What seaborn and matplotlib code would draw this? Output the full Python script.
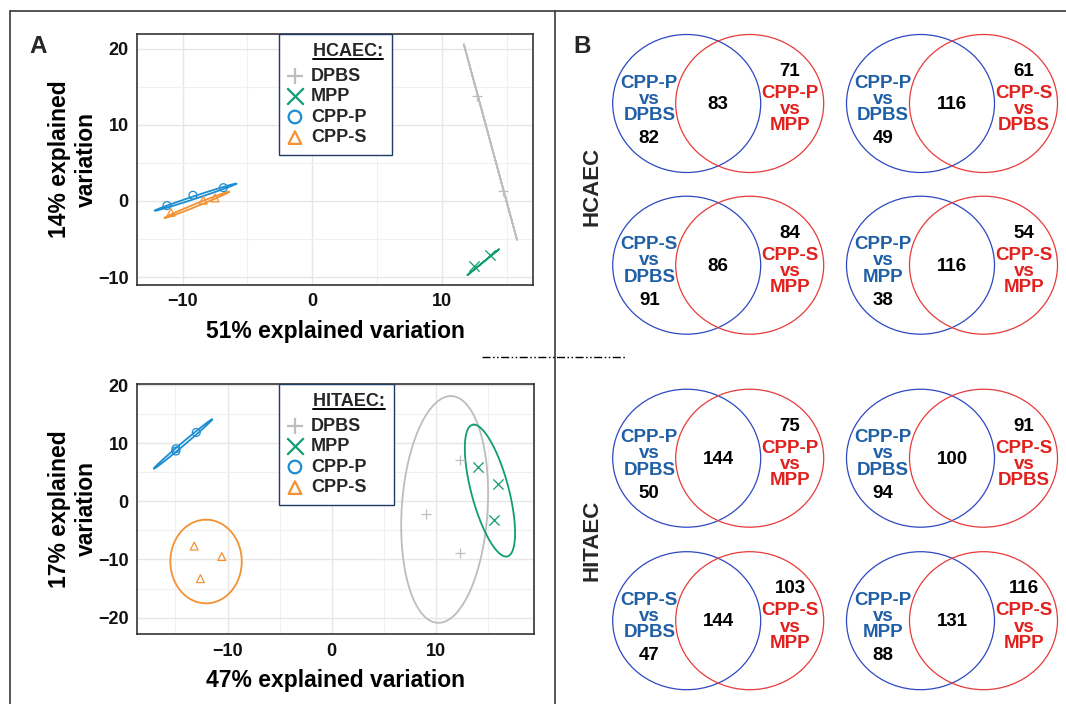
import numpy as np
import pandas as pd
import matplotlib
matplotlib.use("Agg")
import matplotlib.pyplot as plt
import seaborn as sns
from matplotlib.patches import Ellipse
from matplotlib.lines import Line2D
from matplotlib.ticker import MultipleLocator

# --- PCA data ---
groups = ["DPBS", "MPP", "CPP-P", "CPP-S"]
group_colors = ["#bdbdbd", "#0f9d72", "#1b8ed1", "#f39133"]
group_markers = ["+", "x", "o", "^"]

hcaec_group = ["DPBS", "DPBS", "MPP", "MPP", "CPP-P", "CPP-P", "CPP-P",
               "CPP-S", "CPP-S", "CPP-S"]
hcaec_pc1 = [12.75, 14.75, 12.5, 13.75, -11.2, -9.2, -6.85, -10.9, -8.4, -7.5]
hcaec_pc2 = [13.85, 1.35, -8.6, -7.1, -0.6, 0.75, 1.75, -1.5, 0.1, 0.4]

hitaec_group = ["DPBS", "DPBS", "DPBS", "MPP", "MPP", "MPP", "CPP-P", "CPP-P",
                "CPP-P", "CPP-S", "CPP-S", "CPP-S"]
hitaec_pc1 = [12.35, 9.1, 12.35, 14.1, 15.95, 15.6, -14.95, -14.95, -13.0,
              -13.2, -10.55, -12.6]
hitaec_pc2 = [7.05, -2.2, -8.95, 5.95, 3.0, -3.15, 9.05, 8.65, 11.85,
              -7.7, -9.5, -13.3]

# ellipse parameters per group: centre, major half-vector (u), minor half-vector (v)
hcaec_ell_cx = [13.75, 13.19, -9.0, -8.9]
hcaec_ell_cy = [7.75, -8.05, 0.5, -0.51]
hcaec_ell_ux = [-2.05, 1.21, 3.15, 2.5]
hcaec_ell_uy = [12.85, 1.69, 1.78, 1.73]
hcaec_ell_vx = [0.0, 0.0, 0.04, 0.04]
hcaec_ell_vy = [0.0, 0.0, -0.17, -0.17]

hitaec_ell_cx = [10.85, 15.2, -14.28, -12.06]
hitaec_ell_cy = [-1.4, 1.85, 9.85, -10.35]
hitaec_ell_ux = [0.6, -1.55, 2.8, 0.0]
hitaec_ell_uy = [19.5, 11.35, 4.24, 7.2]
hitaec_ell_vx = [4.13, 1.85, 0.1, 3.43]
hitaec_ell_vy = [0.0, 0.0, -0.19, 0.0]

hcaec_var = [51, 14]
hitaec_var = [47, 17]

# --- Venn data ---
venn_cell = ["HCAEC"] * 4 + ["HITAEC"] * 4
venn_left = ["CPP-P vs DPBS", "CPP-P vs DPBS", "CPP-S vs DPBS", "CPP-P vs MPP",
             "CPP-P vs DPBS", "CPP-P vs DPBS", "CPP-S vs DPBS", "CPP-P vs MPP"]
venn_right = ["CPP-P vs MPP", "CPP-S vs DPBS", "CPP-S vs MPP", "CPP-S vs MPP",
              "CPP-P vs MPP", "CPP-S vs DPBS", "CPP-S vs MPP", "CPP-S vs MPP"]
venn_left_only = [82, 49, 91, 38, 50, 94, 47, 88]
venn_both = [83, 116, 86, 116, 144, 100, 144, 131]
venn_right_only = [71, 61, 84, 54, 75, 91, 103, 116]

W, H = 1066, 704

sns.set_theme(style="white")
plt.rcParams["font.family"] = ["Liberation Sans", "DejaVu Sans"]
plt.rcParams["font.weight"] = "bold"

fig = plt.figure(figsize=(W / 100, H / 100), dpi=100)


def px_rect(x0, y0, x1, y1):
    return [x0 / W, 1 - y1 / H, (x1 - x0) / W, (y1 - y0) / H]


def pca_panel(rect, grp, pc1, pc2, ell, var, xlim, ylim, title, leg_x):
    ax = fig.add_axes(rect)
    df = pd.DataFrame({"group": grp, "pc1": pc1, "pc2": pc2})
    t = np.linspace(0, 2 * np.pi, 300)
    for i, g in enumerate(groups):
        cx, cy, ux, uy, vx, vy = [a[i] for a in ell]
        ax.plot(cx + ux * np.cos(t) + vx * np.sin(t),
                cy + uy * np.cos(t) + vy * np.sin(t),
                color=group_colors[i], lw=1.3, zorder=2)
    for i, g in enumerate(groups):
        sub = df[df["group"] == g]
        m, c = group_markers[i], group_colors[i]
        if m in "+x":
            sns.scatterplot(data=sub, x="pc1", y="pc2", marker=m, color=c,
                            s=55, linewidth=0.9, ax=ax, label=g,
                            legend=False, zorder=3)
        else:
            sns.scatterplot(data=sub, x="pc1", y="pc2", marker=m, color=c,
                            facecolor="none", edgecolor=c, s=32,
                            linewidth=0.9, ax=ax, label=g, legend=False,
                            zorder=3)
    ax.set_xlim(*xlim)
    ax.set_ylim(*ylim)
    for axis in (ax.xaxis, ax.yaxis):
        axis.set_major_locator(MultipleLocator(10))
        axis.set_minor_locator(MultipleLocator(5))
    ax.grid(which="major", color="#e6e6e6", lw=1.0)
    ax.grid(which="minor", color="#f0f0f0", lw=0.8)
    ax.set_axisbelow(True)
    ax.tick_params(which="both", length=0, labelsize=13, labelcolor="#111111")
    ax.tick_params(axis="x", pad=6)
    ax.tick_params(axis="y", pad=5.8)
    for lab in ax.get_xticklabels() + ax.get_yticklabels():
        lab.set_fontweight("bold")
    for sp in ax.spines.values():
        sp.set_color("#333333")
        sp.set_linewidth(1.2)
    ax.set_xlabel(f"{var[0]}% explained variation", fontsize=16.5,
                  fontweight="bold", color="black")
    ax.set_ylabel(f"{var[1]}% explained\nvariation", fontsize=16.5,
                  fontweight="bold", color="black", linespacing=1.18)
    ax.xaxis.set_label_coords(0.5, -0.138)
    ax.yaxis.set_label_coords(-0.099, 0.5)

    leg = ax.legend(loc="upper left", bbox_to_anchor=(leg_x, 1.0),
                    borderaxespad=0, title="     " + title,
                    alignment="left", frameon=True, fancybox=False,
                    edgecolor="#1f3b63", framealpha=1, borderpad=0.5,
                    labelspacing=0.2, handlelength=0.81, handletextpad=0.49,
                    markerscale=1.6, prop={"size": 13, "weight": "bold"},
                    title_fontproperties={"size": 13, "weight": "bold"})
    leg.get_frame().set_linewidth(1.0)
    # a little more room between the title and the entries
    leg._legend_box.sep = 5.6
    for h in leg.legend_handles:
        h.set_linewidth(1.6)
    return ax, leg, title


top = pca_panel(px_rect(136.8, 33.7, 533.2, 285.0), hcaec_group, hcaec_pc1,
                hcaec_pc2, [hcaec_ell_cx, hcaec_ell_cy, hcaec_ell_ux,
                            hcaec_ell_uy, hcaec_ell_vx, hcaec_ell_vy],
                hcaec_var, (-13.53, 17.05), (-11.05, 22.0), "HCAEC:", 0.3577)
bot = pca_panel(px_rect(136.8, 383.7, 534.0, 634.3), hitaec_group, hitaec_pc1,
                hitaec_pc2, [hitaec_ell_cx, hitaec_ell_cy, hitaec_ell_ux,
                             hitaec_ell_uy, hitaec_ell_vx, hitaec_ell_vy],
                hitaec_var, (-18.71, 19.43), (-22.87, 20.23), "HITAEC:", 0.357)

# --- Venn diagrams ---
venn_col_x = [686.7, 920.5]
venn_row_y = [103.5, 265.2, 458.2, 620.7]
venn_blue, venn_red = "#2d48c2", "#e83a3a"
txt_blue, txt_red = "#1f5fa6", "#e0211d"
for i in range(len(venn_both)):
    r, c = divmod(i, 2)
    bx, cy = venn_col_x[c], venn_row_y[r]
    vax = fig.add_axes(px_rect(bx - 80, cy - 75, bx + 143, cy + 75))
    vax.set_xlim(-80, 143)
    vax.set_ylim(75, -75)
    vax.axis("off")
    vax.add_patch(Ellipse((0, 0), 148, 138, fill=False, edgecolor=venn_blue, lw=0.9))
    vax.add_patch(Ellipse((63, 0), 148, 138, fill=False, edgecolor=venn_red, lw=0.9))
    kw = dict(ha="center", fontsize=13.5, fontweight="bold")
    vax.text(-37.4, -4.2, venn_left[i].replace(" vs ", "\nvs\n"), va="center",
             color=txt_blue, linespacing=0.93, **kw)
    vax.text(-37.4, 39.5, str(venn_left_only[i]), va="baseline", color="black", **kw)
    vax.text(31.6, 5.5, str(venn_both[i]), va="baseline", color="black", **kw)
    vax.text(103.3, -27.5, str(venn_right_only[i]), va="baseline", color="black", **kw)
    vax.text(103.3, 6.3, venn_right[i].replace(" vs ", "\nvs\n"), va="center",
             color=txt_red, linespacing=0.93, **kw)

# --- overlay: frame, separators, panel letters ---
ov = fig.add_axes([0, 0, 1, 1])
ov.set_xlim(0, W)
ov.set_ylim(H, 0)
ov.axis("off")
ov.patch.set_alpha(0)
ov.plot([10, W], [11, 11], color="#3a3a3a", lw=1.2)
ov.plot([10, 10], [11, H], color="#3a3a3a", lw=1.2)
ov.plot([554.5, 554.5], [11, H], color="#3a3a3a", lw=1.2)
ov.plot([482, 625], [357.3, 357.3], color="black", lw=1.0,
        ls=(0, (5.8, 1.8, 1.1, 1.8, 1.1, 1.8)))
ov.text(38, 53, "A", ha="center", va="baseline", fontsize=17.5, fontweight="bold")
ov.text(582, 53, "B", ha="center", va="baseline", fontsize=17.5, fontweight="bold")
ov.text(591.7, 186.7, venn_cell[0], rotation=90, ha="center", va="center",
        fontsize=16, fontweight="bold")
ov.text(591.7, 540, venn_cell[4], rotation=90, ha="center", va="center",
        fontsize=16, fontweight="bold")

# underline the legend titles
fig.canvas.draw()
renderer = fig.canvas.get_renderer()
for ax, leg, title in (top, bot):
    t = leg.get_title()
    fp = t.get_fontproperties()
    bb = t.get_window_extent(renderer)
    w = renderer.get_text_width_height_descent(title, fp, ismath=False)[0]
    lp_d = renderer.get_text_width_height_descent("lp", fp, ismath=False)[2]
    y = bb.y0 + lp_d - 3.0
    fig.add_artist(Line2D([(bb.x1 - w) / W, bb.x1 / W], [y / H, y / H],
                          transform=fig.transFigure, color="black", lw=1.4))

fig.savefig("out.png", dpi=100)
